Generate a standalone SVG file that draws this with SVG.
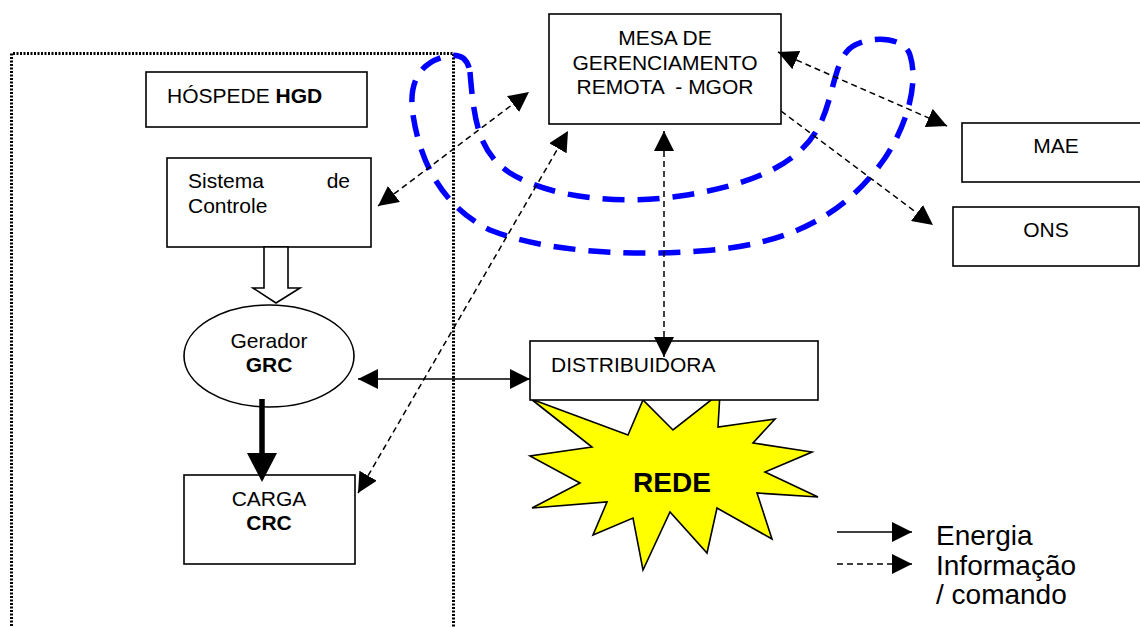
<svg xmlns="http://www.w3.org/2000/svg" width="1140" height="627" viewBox="0 0 1140 627">
<defs>
<style>
text{font-family:"Liberation Sans",Arial,sans-serif;font-size:21px;fill:#000}
.b{font-weight:bold}
.box{fill:#fff;stroke:#000;stroke-width:1.6}
.dash{fill:none;stroke:#000;stroke-width:1.5;stroke-dasharray:6 4}
.solid{fill:none;stroke:#000;stroke-width:1.6}
.blue{fill:none;stroke:#0000ff;stroke-width:5.5;stroke-dasharray:22 13}
.big{font-size:28px}
</style>
<marker id="ah" markerUnits="userSpaceOnUse" markerWidth="20" markerHeight="20" refX="20" refY="10" orient="auto-start-reverse" viewBox="0 0 20 20">
<path d="M0,0 L20,10 L0,20 z" fill="#000"/>
</marker>
</defs>
<rect width="1140" height="627" fill="#fff"/>
<path d="M11.5,640 V53.5 H453.5 V640" fill="none" stroke="#000" stroke-width="3" stroke-dasharray="2 1.5"/>
<g id="blue-loop">
<path class="blue" d="M470,72 C474,120 478,152 510,173 C550,198 620,205 680,196 C760,184 805,160 822,120 C835,90 835,55 855,45 C875,35 905,38 910,55 C918,80 910,120 885,158 C845,215 790,245 700,251 C620,257 540,250 490,230 C440,205 420,160 413,115 C408,82 420,62 447,56 C462,53 468,60 470,72 Z"/>
</g>
<g id="rede">
<polygon points="531,399 628,435 643,400 673,430 720,393 718,427 775,419 753,443 812,452 765,472 818,497 757,493 772,539 717,508 707,553 670,512 643,570 633,518 593,535 607,502 532,508 580,483 530,456 592,447" fill="#ffff00" stroke="#000" stroke-width="1.6" stroke-linejoin="miter"/>
<text class="b big" x="672" y="492" text-anchor="middle">REDE</text>
</g>
<g id="hospede">
<rect class="box" x="146" y="72" width="221" height="55"/>
<text x="167" y="103">HÓSPEDE <tspan class="b">HGD</tspan></text>
</g>
<g id="sistema">
<rect class="box" x="167" y="158" width="204" height="89"/>
<text x="188" y="188">Sistema</text>
<text x="350" y="188" text-anchor="end">de</text>
<text x="188" y="213">Controle</text>
</g>
<g id="gerador">
<ellipse cx="269" cy="356" rx="85" ry="51" fill="#fff" stroke="#000" stroke-width="1.6"/>
<text x="269" y="348" text-anchor="middle">Gerador</text>
<text class="b" x="269" y="372" text-anchor="middle">GRC</text>
</g>
<g id="carga">
<rect class="box" x="184" y="475" width="171" height="89"/>
<text x="269" y="506" text-anchor="middle">CARGA</text>
<text class="b" x="269" y="530" text-anchor="middle">CRC</text>
</g>
<g id="mgor">
<rect class="box" x="549" y="14" width="232" height="110"/>
<text x="665" y="45" text-anchor="middle">MESA DE</text>
<text x="665" y="70" text-anchor="middle">GERENCIAMENTO</text>
<text x="665" y="94" text-anchor="middle" xml:space="preserve">REMOTA  - MGOR</text>
</g>
<g id="mae">
<rect class="box" x="962" y="123" width="190" height="59"/>
<text x="1056" y="153" text-anchor="middle">MAE</text>
</g>
<g id="ons">
<rect class="box" x="953" y="207" width="186" height="59"/>
<text x="1046" y="237" text-anchor="middle">ONS</text>
</g>
<g id="distribuidora">
<rect class="box" x="530" y="341" width="288" height="59"/>
<text x="551" y="372">DISTRIBUIDORA</text>
</g>
<g id="connectors">
<polygon points="264,247 288,247 288,288 300,288 276,303 253,288 264,288" fill="#fff" stroke="#000" stroke-width="1.6"/>
<line x1="262" y1="399" x2="262" y2="455" stroke="#000" stroke-width="5.5"/>
<polygon points="247,453 277,453 262,482" fill="#000"/>
<line class="solid" x1="358" y1="379" x2="530" y2="379" marker-start="url(#ah)" marker-end="url(#ah)"/>
<line class="dash" x1="378" y1="206" x2="529" y2="92" marker-start="url(#ah)" marker-end="url(#ah)"/>
<line class="dash" x1="358" y1="493" x2="568" y2="131" marker-start="url(#ah)" marker-end="url(#ah)"/>
<line class="dash" x1="664" y1="131" x2="664" y2="357" marker-start="url(#ah)" marker-end="url(#ah)"/>
<line class="dash" x1="778" y1="52" x2="947" y2="126" marker-start="url(#ah)" marker-end="url(#ah)"/>
<line class="dash" x1="781" y1="111" x2="933" y2="225" marker-end="url(#ah)"/>
</g>
<g id="legend">
<line class="solid" x1="837" y1="532" x2="912" y2="532" marker-end="url(#ah)"/>
<line class="dash" x1="837" y1="564" x2="912" y2="564" stroke-dasharray="7 5" marker-end="url(#ah)"/>
<text class="big" x="936" y="545">Energia</text>
<text class="big" x="936" y="575">Informação</text>
<text class="big" x="936" y="604">/ comando</text>
</g>
</svg>
